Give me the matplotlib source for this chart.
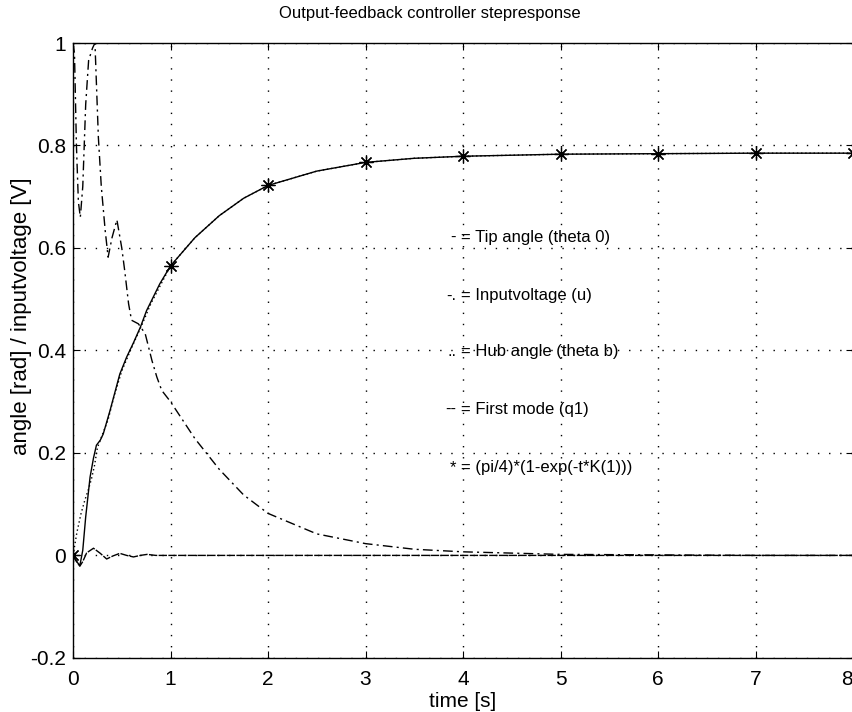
import matplotlib
matplotlib.use("Agg")
import matplotlib.pyplot as plt

plt.rcParams['font.family'] = ['Liberation Sans', 'DejaVu Sans']

# Tip angle (solid)
t_tip = [0, 0.03, 0.07, 0.10, 0.13, 0.175, 0.21, 0.24, 0.28, 0.31, 0.38, 0.48, 0.55,
         0.62, 0.69, 0.755, 0.89, 1.0, 1.25, 1.5, 1.75, 2.0, 2.5, 3.0, 3.5, 4, 5, 6, 7, 8]
y_tip = [0, -0.01, -0.02, 0.01, 0.075, 0.153, 0.19, 0.215, 0.225, 0.237, 0.283, 0.354, 0.387,
         0.415, 0.445, 0.478, 0.53, 0.565, 0.62, 0.663, 0.697, 0.722, 0.75, 0.767, 0.775, 0.779,
         0.783, 0.784, 0.785, 0.785]

# Input voltage (dash-dot)
t_u = [0, 0.015, 0.035, 0.055, 0.075, 0.10, 0.13, 0.16, 0.20, 0.225, 0.26, 0.29, 0.33, 0.36,
       0.40, 0.45, 0.50, 0.53, 0.57, 0.60, 0.67, 0.74, 0.81, 0.86, 0.91, 1.0, 1.25, 1.5, 1.75,
       2.0, 2.5, 3.0, 3.5, 4.0, 5, 6, 7, 8]
y_u = [1.0, 0.98, 0.80, 0.69, 0.66, 0.72, 0.88, 0.966, 0.99, 1.0, 0.816, 0.72, 0.634, 0.582,
       0.62, 0.655, 0.60, 0.556, 0.491, 0.459, 0.452, 0.433, 0.38, 0.348, 0.322, 0.30, 0.228,
       0.168, 0.118, 0.082, 0.042, 0.023, 0.012, 0.007, 0.002, 0.001, 0, 0]

# Hub angle (dotted)
t_hub = [0, 0.04, 0.08, 0.12, 0.16, 0.19, 0.22, 0.25, 0.30, 0.36, 0.42, 0.5, 0.6, 0.7, 0.8,
         1.0, 1.25, 1.5, 1.75, 2.0, 2.5, 3.0, 3.5, 4, 5, 6, 7, 8]
y_hub = [0, 0.045, 0.08, 0.107, 0.13, 0.15, 0.175, 0.21, 0.235, 0.265, 0.31, 0.36, 0.405,
         0.447, 0.492, 0.565, 0.62, 0.663, 0.697, 0.722, 0.75, 0.767, 0.775, 0.779, 0.783,
         0.784, 0.785, 0.785]

# First mode (dashed)
t_q1 = [0, 0.03, 0.07, 0.10, 0.14, 0.21, 0.28, 0.345, 0.41, 0.48, 0.55, 0.62, 0.69, 0.76,
        0.85, 1.0, 2, 3, 4, 5, 6, 7, 8]
y_q1 = [0, -0.01, -0.021, -0.012, 0.005, 0.014, 0.004, -0.007, -0.001, 0.004, 0.0, -0.003,
        0.0, 0.002, 0.0, 0.0, 0, 0, 0, 0, 0, 0, 0]

# (pi/4)*(1-exp(-t*K(1))) markers
t_star = [0, 1, 2, 3, 4, 5, 6, 7, 8]
y_star = [0, 0.565, 0.722, 0.767, 0.779, 0.783, 0.784, 0.785, 0.785]

xticks = [0, 1, 2, 3, 4, 5, 6, 7, 8]
yticks = [-0.2, 0, 0.2, 0.4, 0.6, 0.8, 1.0]
ytick_labels = ['-0.2', '0', '0.2', '0.4', '0.6', '0.8', '1']

legend_prefix = ['-', '-.', '..', '--', '*']
legend_text = ['= Tip angle (theta 0)', '= Inputvoltage (u)', '= Hub angle (theta b)',
               '= First mode (q1)', '= (pi/4)*(1-exp(-t*K(1)))']
legend_y = [0.62, 0.507, 0.398, 0.285, 0.172]

fig = plt.figure(figsize=(8.53, 7.12), dpi=100)
ax = fig.add_axes([0.0856, 0.076, 0.9144, 0.8636])

lw = 1.0
ax.plot(t_tip, y_tip, color='black', lw=lw, linestyle='-')
ax.plot(t_u, y_u, color='black', lw=lw, linestyle=(0, (7, 3, 1.5, 3)))
ax.plot(t_hub, y_hub, color='black', lw=lw, linestyle=(0, (1, 2)))
ax.plot(t_q1, y_q1, color='black', lw=lw, linestyle=(0, (6, 1)))
ax.plot(t_star, y_star, linestyle='none', marker=(8, 2, 0), markersize=10,
        markeredgecolor='black', markeredgewidth=0.9, color='black')

ax.set_xlim(0, 8)
ax.set_ylim(-0.2, 1.0)
ax.set_xticks(xticks)
ax.set_xticklabels([str(v) for v in xticks])
ax.set_yticks(yticks)
ax.set_yticklabels(ytick_labels)
ax.tick_params(direction='in', length=5, labelsize=15, colors='black',
               top=True, right=True)
ax.tick_params(axis='x', pad=9)
ax.tick_params(axis='y', pad=5)
xl = ax.get_xticklabels()
xl[-1].set_horizontalalignment('right')
ax.grid(True, linestyle=(0, (1, 7)), color='black', linewidth=1.0)
for s in ax.spines.values():
    s.set_linewidth(1.0)
    s.set_color('black')

ax.set_title('Output-feedback controller stepresponse', fontsize=12, pad=18,
             x=(430 - 73) / 780)
ax.set_xlabel('time [s]', fontsize=15, labelpad=2)
ax.set_ylabel('angle [rad] / inputvoltage [V]', fontsize=16)
ax.yaxis.set_label_coords(-0.053, 0.555)

for p, s, y in zip(legend_prefix, legend_text, legend_y):
    ax.text(3.93, y, p, fontsize=12, ha='right', va='center')
    ax.text(3.98, y, s, fontsize=12, ha='left', va='center')

fig.savefig('out.png', dpi=100)
